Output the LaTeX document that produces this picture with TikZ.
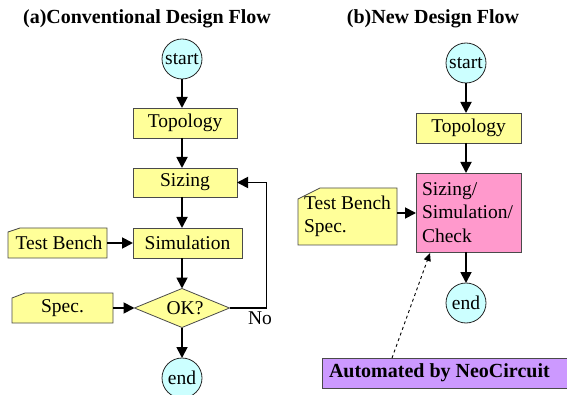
\documentclass[tikz,border=0pt]{standalone}
\usepackage{fontspec}
\setmainfont{Liberation Serif}
\usetikzlibrary{arrows.meta,shapes.geometric,calc,backgrounds}
\definecolor{boxy}{HTML}{FFFF99}
\definecolor{cyanc}{HTML}{CCFFFF}
\definecolor{pinkc}{HTML}{FF99CC}
\definecolor{purp}{HTML}{CC99FF}
\definecolor{edge}{HTML}{4A4A4A}
\begin{document}
\begin{tikzpicture}[x=1pt,y=-1pt,font=\fontsize{19.5}{23.5}\selectfont,
  box/.style={draw=edge,fill=boxy,line width=0.8pt,inner sep=0pt,outer sep=0pt,minimum height=30pt},
  plain/.style={inner sep=0pt,outer sep=0pt},
  circ/.style={circle,draw=black!85,fill=cyanc,line width=0.8pt,minimum size=40pt,inner sep=0pt,outer sep=0pt},
  flow/.style={line width=1.8pt,-{Triangle[length=11pt,width=11pt]}},
  chamf/.style={draw=edge,fill=boxy,line width=0.8pt,line join=miter},
  ttl/.style={font=\fontsize{20}{24}\selectfont\bfseries}]
\useasboundingbox (0,0) rectangle (567,395);
% titles
\node[ttl] (ta) at (147,19) {(a)Conventional Design Flow};
\node[ttl] (tb) at (433,19) {(b)New Design Flow};
% ---- (a)
\node[circ] (stA) at (182,59) {start};
\node[box,minimum width=104pt] (topoA) at (185,123) {Topology};
\node[box,minimum width=104pt,minimum height=29pt] (sizA) at (185,182.5) {Sizing};
\node[box,minimum width=109pt] (simA) at (187.5,243) {Simulation};
\node[plain,minimum width=99pt,minimum height=30pt] (tbA) at (57.5,243) {\hspace*{3pt}Test Bench};
\node[plain,minimum width=101pt,minimum height=30pt] (spA) at (62.5,308) {Spec.};
\node[diamond,draw=edge,fill=boxy,line width=0.8pt,aspect=2.4,minimum width=95pt,minimum height=39pt,inner sep=0pt,outer sep=0pt] (okA) at (182,308) {\hspace*{6pt}OK?};
\node[circ] (enA) at (182,378) {end};
\node[plain] (no) at (260,318.5) {No};
\begin{scope}[on background layer]
\draw[chamf] (tbA.south west) -- ($(tbA.north west)+(0,4)$) -- ($(tbA.north west)+(12,0)$) -- (tbA.north east) -- (tbA.south east) -- cycle;
\draw[chamf] (spA.south west) -- ($(spA.north west)+(0,5)$) -- ($(spA.north west)+(13,0)$) -- (spA.north east) -- (spA.south east) -- cycle;
\end{scope}
\draw[flow] (stA.south) -- (stA.south |- topoA.north);
\draw[flow] (stA.south |- topoA.south) -- (stA.south |- sizA.north);
\draw[flow] (stA.south |- sizA.south) -- (stA.south |- simA.north);
\draw[flow] (stA.south |- simA.south) -- (okA.north);
\draw[flow] (tbA.east) -- (simA.west);
\draw[flow] (spA.east) -- (okA.west);
\draw[flow] (okA.south) -- (enA.north);
\draw[flow] (okA.east) -- ++(37,0) |- (sizA.east);
% ---- (b)
\node[circ] (stB) at (466,63) {start};
\node[box,minimum width=105pt] (topoB) at (468.5,128) {Topology};
\node[draw=edge,fill=pinkc,line width=0.8pt,outer sep=0pt,inner xsep=6pt,inner ysep=0pt,
  minimum width=105pt,minimum height=79pt,text width=93pt,align=left] (chk) at (468.5,212.5) {Sizing/\\Simulation/\\Check};
\node[plain,minimum width=99pt,minimum height=57pt,align=left] (tbB) at (347.5,216.5) {Test Bench\\Spec.};
\begin{scope}[on background layer]
\draw[chamf] (tbB.south west) -- ($(tbB.north west)+(0,11)$) -- ($(tbB.north west)+(22,0)$) -- (tbB.north east) -- (tbB.south east) -- cycle;
\end{scope}
\node[circ] (enB) at (466,303) {end};
\node[plain,minimum width=262pt,minimum height=30pt,
  font=\fontsize{20}{24}\selectfont\bfseries,anchor=west] (auto) at (322,373) {\hspace*{7pt}Automated by NeoCircuit\hspace*{37pt}};
\begin{scope}[on background layer]
\fill[purp] (auto.north west) rectangle (auto.south east);
\draw[edge,line width=0.8pt] (auto.north east) -- (auto.north west) -- (auto.south west) -- (auto.south east);
\end{scope}
\draw[flow] (stB.south) -- (stB.south |- topoB.north);
\draw[flow] (stB.south |- topoB.south) -- (stB.south |- chk.north);
\draw[flow] (stB.south |- chk.south) -- (enB.north);
\draw[flow] (tbB.east |- 0,213) -- (chk.west |- 0,213);
\draw[line width=0.9pt,dashed,-{Triangle[length=8pt,width=7pt]}] ($(auto.north west)+(70,0)$) -- ($(chk.south west)+(14,1)$);
\end{tikzpicture}
\end{document}
